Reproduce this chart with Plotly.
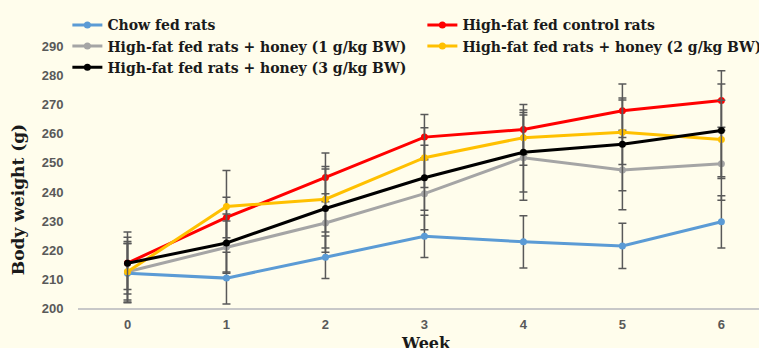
import plotly.graph_objects as go

weeks = ["0", "1", "2", "3", "4", "5", "6"]

names = [
    "Chow fed rats",
    "High-fat fed control rats",
    "High-fat fed rats + honey (1 g/kg BW)",
    "High-fat fed rats + honey (2 g/kg BW)",
    "High-fat fed rats + honey (3 g/kg BW)",
]

chow = [212.0, 210.3, 217.5, 224.7, 222.8, 221.4, 229.7]
chow_err = [10.2, 8.9, 7.3, 7.3, 9.0, 7.8, 9.0]

hf_control = [215.5, 231.2, 245.0, 258.9, 261.5, 268.0, 271.5]
hf_control_err = [10.7, 7.0, 8.4, 7.8, 8.6, 9.2, 10.3]

honey1 = [212.5, 221.0, 229.3, 239.4, 251.8, 247.6, 249.7]
honey1_err = [10.4, 9.0, 10.1, 12.4, 14.7, 13.7, 12.6]

honey2 = [212.5, 235.0, 237.5, 251.8, 258.7, 260.6, 258.1]
honey2_err = [9.7, 12.4, 11.3, 10.3, 9.5, 11.1, 13.5]

honey3 = [215.4, 222.4, 234.3, 244.9, 253.7, 256.4, 261.2]
honey3_err = [9.0, 10.0, 13.6, 11.2, 13.7, 16.0, 16.0]

series = [chow, hf_control, honey1, honey2, honey3]
errors = [chow_err, hf_control_err, honey1_err, honey2_err, honey3_err]
colors = ["#5B9BD5", "#FF0000", "#A5A5A5", "#FFC000", "#000000"]

bg = "#FFFDEC"
serif = "DejaVu Serif"
tickfam = "Liberation Sans Narrow, Liberation Sans"

fig = go.Figure()
for name, vals, err, col in zip(names, series, errors, colors):
    fig.add_trace(go.Scatter(
        x=weeks, y=vals, name="<b>" + name + "</b>", mode="lines+markers",
        line=dict(color=col, width=3),
        marker=dict(color=col, size=7),
        error_y=dict(type="data", array=err, visible=True,
                     color="#595959", thickness=1.5, width=4),
    ))

fig.update_layout(
    width=759, height=348,
    paper_bgcolor=bg, plot_bgcolor=bg,
    margin=dict(l=78, r=0, t=46, b=40, autoexpand=False),
    showlegend=True,
    legend=dict(
        orientation="h", x=-0.0156, y=1.14, xanchor="left", yanchor="top",
        entrywidth=310, entrywidthmode="pixels",
        font=dict(family=serif, size=14, color="#1a1a1a"),
        bgcolor="rgba(0,0,0,0)", itemwidth=30, tracegroupgap=0,
    ),
    xaxis=dict(
        type="category", range=[-0.5, 6.38],
        showgrid=False, zeroline=False,
        showline=True, linecolor="#C8C8C8", linewidth=2,
        ticks="outside", ticklen=3, tickcolor="rgba(0,0,0,0)",
        tickfont=dict(family=tickfam, size=13, color="#595959", weight="bold"),
    ),
    yaxis=dict(
        range=[200, 290.3], dtick=10,
        showgrid=False, zeroline=False, showline=False,
        ticks="outside", ticklen=11, tickcolor="rgba(0,0,0,0)",
        tickfont=dict(family=tickfam, size=13, color="#595959", weight="bold"),
    ),
    annotations=[
        dict(text="<b>Body weight (g)</b>", textangle=-90,
             xref="paper", yref="paper", x=-0.088, y=0.412,
             xanchor="center", yanchor="middle", showarrow=False,
             font=dict(family=serif, size=17, color="#1a1a1a")),
        dict(text="<b>Week</b>", xref="x", yref="paper", x=3.02, y=-0.09,
             xanchor="center", yanchor="top", showarrow=False,
             font=dict(family=serif, size=16, color="#1a1a1a")),
    ],
)

fig.write_html(
    "out.html",
    config={"displayModeBar": False},
    post_script="document.body.style.margin='0';document.body.style.background='" + bg + "';document.body.style.overflow='hidden';",
)
